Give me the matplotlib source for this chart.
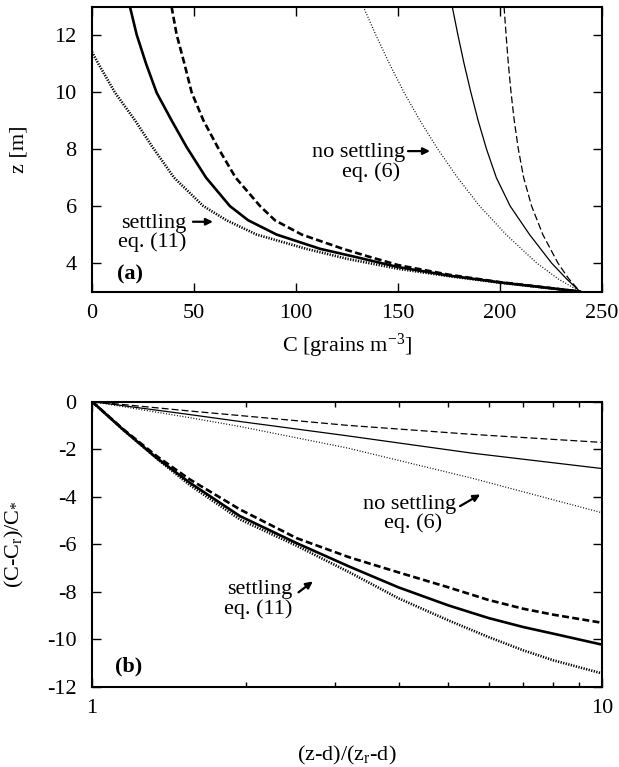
import numpy as np
import matplotlib
matplotlib.use("Agg")
import matplotlib.pyplot as plt
from matplotlib.ticker import LogLocator, NullFormatter, FixedLocator, FixedFormatter

plt.rcParams['font.family'] = ['Liberation Serif', 'DejaVu Serif']
plt.rcParams['mathtext.fontset'] = 'custom'
plt.rcParams['mathtext.rm'] = 'Liberation Serif'
plt.rcParams['mathtext.it'] = 'Liberation Serif:italic'
plt.rcParams['axes.unicode_minus'] = False
plt.rcParams['lines.scale_dashes'] = False
plt.rcParams['font.size'] = 16

# ---- panel (a): concentration profiles C(z) ----
# settling, eq. (11)
a_set_solid_C = [18.6, 21.9, 26.5, 31.7, 39.0, 46.4, 55.9, 67.6, 76.6, 90.5, 111.8, 130.0, 150.0, 175.0, 200.0, 239.2]
a_set_solid_z = [13.0, 12.02, 11.0, 9.98, 9.01, 8.07, 7.0, 6.0, 5.5, 5.0, 4.5, 4.2, 3.86, 3.56, 3.32, 3.0]
a_set_dash_C = [39.0, 41.5, 45.3, 48.9, 54.6, 61.6, 70.4, 82.4, 89.7, 102.8, 123.0, 135.0, 150.0, 175.0, 200.0, 239.2]
a_set_dash_z = [13.0, 12.02, 11.0, 9.98, 9.01, 8.07, 7.0, 6.0, 5.5, 5.0, 4.5, 4.24, 3.93, 3.59, 3.33, 3.0]
a_set_dot_C = [0.0, 3.1, 11.3, 21.1, 29.2, 40.2, 54.6, 66.0, 80.7, 105.0, 125.0, 150.0, 175.0, 200.0, 239.2]
a_set_dot_z = [11.41, 11.0, 9.98, 9.01, 8.12, 7.0, 6.0, 5.5, 5.0, 4.5, 4.15, 3.8, 3.54, 3.31, 3.0]
# no settling, eq. (6)
a_nos_z = [13.0, 12.0, 11.0, 10.0, 9.0, 8.0, 7.0, 6.0, 5.0, 4.0, 3.44, 3.0]
a_nos_dot_C = [133.0, 139.2, 145.8, 152.9, 160.8, 169.5, 179.2, 190.0, 203.0, 218.0, 228.6, 239.2]
a_nos_solid_C = [176.6, 179.4, 182.4, 185.7, 189.3, 193.4, 198.2, 205.0, 214.5, 225.3, 232.7, 239.2]
a_nos_dash_C = [202.0, 203.0, 204.1, 205.4, 207.0, 209.0, 211.6, 215.5, 221.0, 228.4, 233.8, 239.2]

# ---- panel (b): normalised deficit vs (z-d)/(zr-d) ----
b_x = [1.0, 1.152, 1.34, 1.556, 1.95, 2.52, 3.2, 3.99, 5.0, 5.99, 7.01, 8.03, 10.0]
b_set_solid = [0.0, -1.19, -2.38, -3.42, -4.82, -5.96, -6.95, -7.82, -8.58, -9.11, -9.49, -9.77, -10.23]
b_set_dash = [0.0, -1.17, -2.30, -3.28, -4.54, -5.75, -6.56, -7.19, -7.82, -8.35, -8.72, -8.97, -9.31]
b_set_dot = [0.0, -1.20, -2.40, -3.52, -4.96, -6.07, -7.19, -8.28, -9.21, -9.91, -10.47, -10.89, -11.44]
b_x_nos = [1.0, 1.556, 1.95, 3.16, 5.55, 10.0]
b_nos_dash = [0.0, -0.40, -0.59, -1.00, -1.38, -1.72]
b_nos_solid = [0.0, -0.55, -0.84, -1.44, -2.17, -2.82]
b_nos_dot = [0.0, -0.68, -1.05, -1.95, -3.22, -4.68]

a_xticks = [0, 50, 100, 150, 200, 250]
a_yticks = [4, 6, 8, 10, 12]
b_yticks = [0, -2, -4, -6, -8, -10, -12]

THICK = 1.9
THIN = 0.9
DASH_THICK = (5.0, 2.4)
DASH_THIN = (5.0, 2.2)
DOT_THICK = (0.9, 1.0)
DOT_THIN = (0.7, 1.3)


def style_axes(ax):
    for s in ax.spines.values():
        s.set_linewidth(1.5)
    ax.tick_params(which='both', direction='in', top=True, right=True, width=1.0)
    ax.tick_params(which='major', length=6.5)
    ax.tick_params(which='minor', length=3.6)
    ax.tick_params(axis='x', pad=9)
    ax.tick_params(axis='y', pad=11)


def arrow(ax, start, end):
    ax.annotate('', xy=end, xytext=start,
                arrowprops=dict(arrowstyle='-|>', lw=1.6, color='black',
                                mutation_scale=10, shrinkA=0, shrinkB=0))


fig = plt.figure(figsize=(6.19, 7.67), dpi=100)

# panel (a)
ax1 = fig.add_axes([0.1486, 0.6199, 0.8239, 0.3714])
style_axes(ax1)
ax1.plot(a_set_solid_C, a_set_solid_z, color='black', lw=THICK)
ax1.plot(a_set_dash_C, a_set_dash_z, color='black', lw=THICK, dashes=DASH_THICK)
ax1.plot(a_set_dot_C, a_set_dot_z, color='black', lw=THICK, dashes=DOT_THICK)
ax1.plot(a_nos_solid_C, a_nos_z, color='black', lw=THIN)
ax1.plot(a_nos_dash_C, a_nos_z, color='black', lw=THIN, dashes=DASH_THIN)
ax1.plot(a_nos_dot_C, a_nos_z, color='black', lw=THIN, dashes=DOT_THIN)
ax1.set_xlim(0, 250)
ax1.set_ylim(3, 13)
ax1.set_xticks(a_xticks)
ax1.set_yticks(a_yticks)
ax1.set_xlabel(r'C [grains m$^{-3}$]', va='center', ha='center')
ax1.xaxis.set_label_coords(0.5, -0.19)
ax1.set_ylabel('z [m]', va='center', ha='center')
ax1.yaxis.set_label_coords(-0.144, 0.5)
ax1.text(46.4, 5.22, 'settling', ha='right', va='baseline')
ax1.text(46.4, 4.57, 'eq. (11)', ha='right', va='baseline')
arrow(ax1, (49.5, 5.45), (59.3, 5.45))
ax1.text(153.4, 7.72, 'no settling', ha='right', va='baseline')
ax1.text(151.0, 7.01, 'eq. (6)', ha='right', va='baseline')
arrow(ax1, (154.9, 7.93), (165.7, 7.93))
ax1.text(12.3, 3.41, '(a)', ha='left', va='baseline', fontweight='bold')

# panel (b)
ax2 = fig.add_axes([0.1486, 0.1047, 0.8239, 0.3718])
style_axes(ax2)
ax2.set_xscale('log')
ax2.plot(b_x, b_set_solid, color='black', lw=THICK)
ax2.plot(b_x, b_set_dash, color='black', lw=THICK, dashes=DASH_THICK)
ax2.plot(b_x, b_set_dot, color='black', lw=THICK, dashes=DOT_THICK)
ax2.plot(b_x_nos, b_nos_solid, color='black', lw=THIN)
ax2.plot(b_x_nos, b_nos_dash, color='black', lw=THIN, dashes=DASH_THIN)
ax2.plot(b_x_nos, b_nos_dot, color='black', lw=THIN, dashes=DOT_THIN)
ax2.set_xlim(1, 10)
ax2.set_ylim(-12, 0)
ax2.xaxis.set_major_locator(FixedLocator([1, 10]))
ax2.xaxis.set_major_formatter(FixedFormatter(['1', '10']))
ax2.xaxis.set_minor_locator(LogLocator(base=10, subs=np.arange(2, 10)))
ax2.xaxis.set_minor_formatter(NullFormatter())
ax2.set_yticks(b_yticks)
ax2.set_xlabel(r'(z-d)/(z$_{\rm r}$-d)', va='center', ha='center')
ax2.xaxis.set_label_coords(0.5, -0.24)
ax2.set_ylabel(r'(C-C$_{\rm r}$)/C$_{*}$', va='center', ha='center')
ax2.yaxis.set_label_coords(-0.151, 0.5)
ax2.text(2.47, -8.10, 'settling', ha='right', va='baseline')
ax2.text(2.47, -8.93, 'eq. (11)', ha='right', va='baseline')
arrow(ax2, (2.54, -8.03), (2.71, -7.57))
ax2.text(4.20, -4.54, 'no settling', ha='center', va='baseline')
ax2.text(4.27, -5.31, 'eq. (6)', ha='center', va='baseline')
arrow(ax2, (5.27, -4.40), (5.77, -3.91))
ax2.text(1.11, -11.37, '(b)', ha='left', va='baseline', fontweight='bold')

fig.savefig('out.png', dpi=100)
